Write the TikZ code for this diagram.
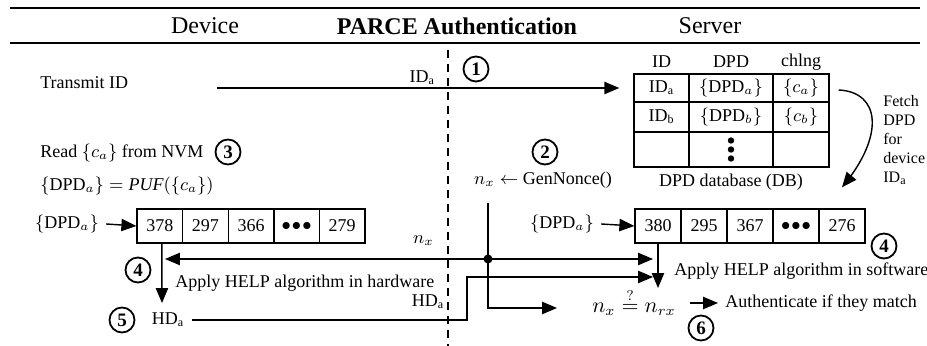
\documentclass[tikz,border=0pt]{standalone}
\usepackage{fontspec}
\setmainfont{Liberation Serif}
\usepackage{amsmath}
\usetikzlibrary{calc}
\usetikzlibrary{arrows}
\usetikzlibrary{positioning}
\def\dpd#1{$\{\mathrm{DPD}_{#1}\}$}
\def\threedots{$\bullet\hspace{-1.5pt}\bullet\hspace{-1.5pt}\bullet$}

\begin{document}
\begin{tikzpicture}[x=0.5pt,y=-0.5pt,line width=0.7pt,
	font=\fontsize{9}{11}\selectfont,
	stepnum/.style={circle,draw,line width=0.9pt,inner sep=0pt,minimum size=12.5pt,font=\fontsize{9.5}{11}\selectfont\bfseries},
	cell/.style={draw,minimum width=22.8pt,minimum height=17pt,inner sep=0pt},
	scell/.style={draw,minimum width=23pt,minimum height=17pt,inner sep=0pt},
	tcell/.style={draw,inner sep=0pt,minimum height=#1},
	flow/.style={-triangle 45},
	head/.style={font=\fontsize{12}{14}\selectfont}]
	\useasboundingbox (0,0) rectangle (927,346);
	% header
	\draw[line width=1pt] (10,8)--(920,8);
	\draw[line width=1pt] (10,43)--(920,43);
	\node[head] (hdev) at (205,26) {Device};
	\node[head] (hpar) at (457,26) {\bfseries PARCE Authentication};
	\node[head] (hsrv) at (710,26) {Server};
	\draw[dashed,dash pattern=on 4pt off 3pt] (448,50)--(448,346);
	% database
	\node (tid) at (661.5,62) {ID};
	\node (tdpd) at (731,62) {DPD};
	\node (tch) at (801,62) {chlng};
	\node[tcell=14pt,minimum width=27.5pt] (t11) at (661.5,88) {ID$_\mathrm{a}$};
	\node[tcell=14pt,minimum width=42pt] (t12) at (731,88) {\dpd{a}};
	\node[tcell=14pt,minimum width=28pt] (t13) at (801,88) {$\{c_a\}$};
	\node[tcell=15pt,minimum width=27.5pt] (t21) at (661.5,117) {ID$_\mathrm{b}$};
	\node[tcell=15pt,minimum width=42pt] (t22) at (731,117) {\dpd{b}};
	\node[tcell=15pt,minimum width=28pt] (t23) at (801,117) {$\{c_b\}$};
	\node[tcell=17.5pt,minimum width=27.5pt] (t31) at (661.5,149.5) {};
	\node[tcell=17.5pt,minimum width=42pt] (t32) at (731,149.5) {};
	\node[tcell=17.5pt,minimum width=28pt] (t33) at (801,149.5) {};
	\fill ($(t32)+(0,-9)$) circle (3.2);
	\fill (t32) circle (3.2);
	\fill ($(t32)+(0,9)$) circle (3.2);
	\node (db) at (731,182) {DPD database (DB)};
	% step 1
	\node[anchor=west] (tx) at (33,83) {Transmit ID};
	\coordinate (txs) at (217,88);
	\draw[flow] (txs)--($(t11.west)+(-14,0)$) node[pos=0.51,above,inner sep=1.5pt] (ida) {ID$_\mathrm{a}$};
	\node[stepnum] (s1) at (476,69) {1};
	% step 2
	\node[stepnum] (s2) at (545,152) {2};
	\node (nonce) at (543,180) {$n_x \leftarrow$ GenNonce()};
	% step 3
	\node[anchor=west] (read) at (33,153) {Read $\{c_a\}$ from NVM};
	\node[stepnum] (s3) at (228,152) {3};
	\node[anchor=west] (puf) at (33,186) {$\{\mathrm{DPD}_a\} = \mathit{PUF}(\{c_a\})$};
	% device array
	\node (dpdd) at (67,224) {\dpd{a}};
	\foreach \v [count=\i] in {378,297,366,\threedots,279}
		\node[cell] (dv\i) at ({137+45.6*(\i-0.5)},226) {\v};
	\draw[flow] (dpdd.east)--(dv1.west);
	% server array
	\node (dpds) at (562,224) {\dpd{a}};
	\foreach \v [count=\i] in {380,295,367,\threedots,276}
		\node[scell] (sv\i) at ({635+46*(\i-0.5)},226) {\v};
	\draw[flow] (dpds.east)--(sv1.west);
	\draw[flow] ($(t13.east)+(9,2)$) .. controls (880,92) and (885,135) .. ($(sv5.north)+(0,-21)$);
	\node[align=left,anchor=west,font=\fontsize{8}{9.5}\selectfont] (fetch) at (876,140) {Fetch\\DPD\\for\\device\\ID$_\mathrm{a}$};
	% step 4
	\node[stepnum] (s4d) at (138,270) {4};
	\node[stepnum] (s4s) at (884,246) {4};
	\coordinate (split) at (488,259);
	\coordinate (ntop) at (488,203);
	\draw[flow] (split)--(165,259) node[pos=0.2,above=3pt] (nxl) {$n_x$};
	\draw[flow] (split)--(653,259);
	\fill (split) circle (4.5);
	\draw[flow] (ntop)--(488,308)--(557,308);
	\draw[flow] ($(dv1.south)+(2,0)$)--(162,303);
	\draw[flow] (sv1.south)--(658,288);
	\node[anchor=west] (hw) at (168,283) {Apply HELP algorithm in hardware};
	\node[anchor=west] (sw) at (667,271) {Apply HELP algorithm in software};
	% step 5
	\node[stepnum] (s5) at (122,320) {5};
	\node (hda) at (168,320) {HD$_\mathrm{a}$};
	\draw[flow] (hda.east)--(467,320)--(467,277)--(653,277);
	\node (hdl) at (428,302) {HD$_\mathrm{a}$};
	% step 6
	\node[font=\fontsize{10.5}{12}\selectfont] (cmp) at (634,302) {$n_x \stackrel{?}{=} n_{rx}$};
	\node[anchor=west] (auth) at (718,303) {Authenticate if they match};
	\draw[flow] ($(auth.west)+(-28,0)$)--(auth.west);
	\node[stepnum] (s6) at (701,328) {6};
\end{tikzpicture}
\end{document}
